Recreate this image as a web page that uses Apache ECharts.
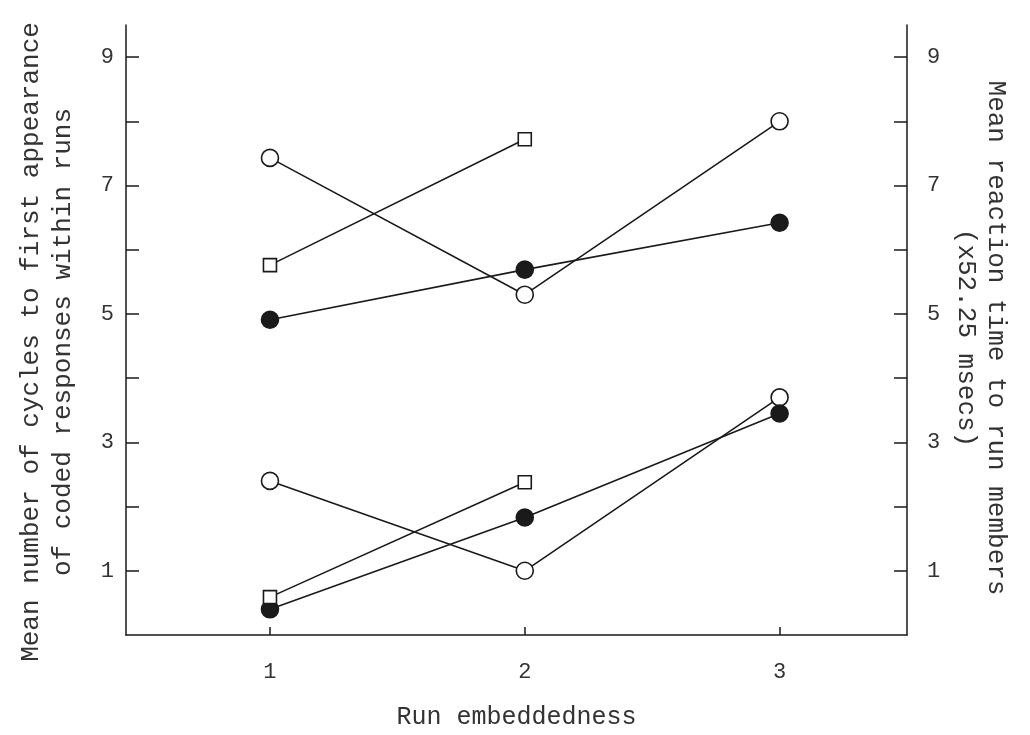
<!DOCTYPE html>
<html>
<head>
<meta charset="utf-8">
<script src="https://cdn.jsdelivr.net/npm/echarts@6/dist/echarts.min.js"></script>
<style>
html,body{margin:0;padding:0;background:#fff;}
#chart{width:1030px;height:735px;}
</style>
</head>
<body>
<div id="chart"></div>
<script>
// x positions (run embeddedness)
const xCategories = [1, 2, 3];
const yTicks = [1, 2, 3, 4, 5, 6, 7, 8, 9];
const yLabels = [1, 3, 5, 7, 9];

// Upper group (right axis: mean reaction time, x52.25 msecs)
const upperOpen   = [7.43, 5.30, 8.00];
const upperFilled = [4.91, 5.69, 6.42];
const upperSquare = [5.76, 7.72, null];

// Lower group (left axis: mean number of cycles)
const lowerOpen   = [2.40, 1.00, 3.70];
const lowerFilled = [0.40, 1.83, 3.45];
const lowerSquare = [0.59, 2.38, null];

const INK = '#1a1a1a';
const TEXT = '#333333';
const FONT = 'Liberation Mono';

function pairs(vals) {
  const out = [];
  vals.forEach((v, i) => { if (v !== null) out.push([xCategories[i], v]); });
  return out;
}

function series(name, vals, kind, axis) {
  const open = kind !== 'filled';
  return {
    name: name,
    type: 'line',
    yAxisIndex: axis,
    data: pairs(vals),
    symbol: kind === 'square' ? 'rect' : 'circle',
    symbolSize: kind === 'square' ? 13 : 17,
    showAllSymbol: true,
    lineStyle: { color: INK, width: 1.6 },
    itemStyle: {
      color: open ? '#ffffff' : INK,
      borderColor: INK,
      borderWidth: 1.6
    },
    z: 3,
    animation: false,
    emphasis: { disabled: true }
  };
}

const yAxisCommon = {
  type: 'value',
  min: 0,
  max: 9.5,
  splitLine: { show: false },
  axisLine: { show: true, onZero: false, lineStyle: { color: INK, width: 1.5 } },
  axisTick: { show: true, inside: true, length: 13, customValues: yTicks, lineStyle: { color: INK, width: 1.5 } },
  axisLabel: { customValues: yLabels, color: TEXT, fontFamily: FONT, fontSize: 22 },
  nameLocation: 'middle'
};

const chart = echarts.init(document.getElementById('chart'), null, { renderer: 'canvas' });
chart.setOption({
  backgroundColor: '#ffffff',
  animation: false,
  grid: { left: 126, right: 123, top: 25, bottom: 100, containLabel: false, outerBoundsMode: 'none' },
  xAxis: {
    type: 'value',
    min: 0.435,
    max: 3.5,
    splitLine: { show: false },
    axisLine: { show: true, onZero: false, lineStyle: { color: INK, width: 1.5 } },
    axisTick: { show: true, inside: true, length: 8, customValues: xCategories, lineStyle: { color: INK, width: 1.5 } },
    axisLabel: { customValues: xCategories, margin: 26, color: TEXT, fontFamily: FONT, fontSize: 22 },
    name: 'Run embeddedness',
    nameLocation: 'middle',
    nameGap: 70,
    nameTextStyle: { color: TEXT, fontFamily: FONT, fontSize: 25 }
  },
  yAxis: [
    Object.assign({}, yAxisCommon, {
      position: 'left',
      name: 'Mean number of cycles to first appearance\nof coded responses within runs',
      nameRotate: 90,
      nameGap: 47,
      nameTextStyle: { color: TEXT, fontFamily: FONT, fontSize: 26, lineHeight: 32, padding: [0, 24, 0, 0] },
      axisLabel: Object.assign({}, yAxisCommon.axisLabel, { margin: 12 })
    }),
    Object.assign({}, yAxisCommon, {
      position: 'right',
      name: 'Mean reaction time to run members\n(x52.25 msecs)',
      nameRotate: -90,
      nameGap: 40,
      nameTextStyle: { color: TEXT, fontFamily: FONT, fontSize: 26, lineHeight: 30, padding: [0, 0, 0, 16] },
      axisLabel: Object.assign({}, yAxisCommon.axisLabel, { margin: 20 })
    })
  ],
  series: [
    series('upperOpen', upperOpen, 'open', 1),
    series('upperFilled', upperFilled, 'filled', 1),
    series('upperSquare', upperSquare, 'square', 1),
    series('lowerOpen', lowerOpen, 'open', 0),
    series('lowerFilled', lowerFilled, 'filled', 0),
    series('lowerSquare', lowerSquare, 'square', 0)
  ]
});
</script>
</body>
</html>
